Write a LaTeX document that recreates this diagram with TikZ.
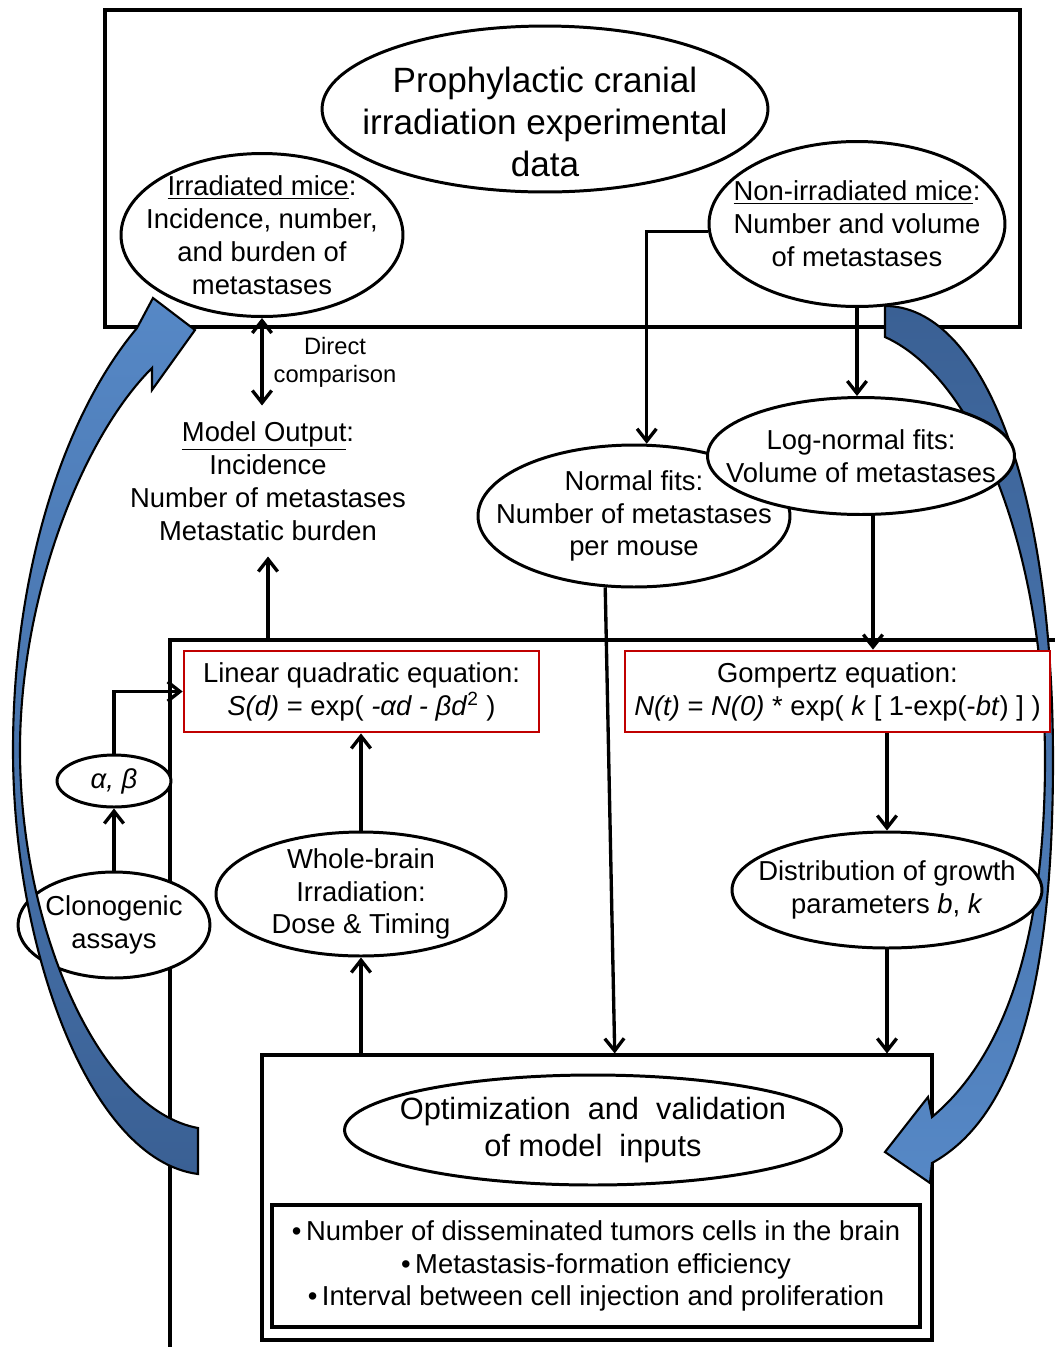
\documentclass[tikz,border=0pt]{standalone}
\usepackage{fontspec}
\setmainfont{Liberation Sans}
\usetikzlibrary{shapes.geometric, arrows.meta, calc}
\definecolor{eqred}{RGB}{192,0,0}
\definecolor{lightblue}{RGB}{86,136,198}
\definecolor{darkblue}{RGB}{58,96,148}
\tikzstyle{oval}=[ellipse, draw=black, fill=white, line width=1.7pt,
inner sep=-2cm, align=center, font=\fontsize{15.6}{18.7}\selectfont]
\tikzstyle{eqbox}=[rectangle, draw=eqred, fill=white, line width=1.6pt,
inner sep=0pt, align=center, font=\fontsize{15.6}{18.7}\selectfont]
\tikzstyle{frame}=[rectangle, draw=black, line width=1.8pt, inner sep=0pt,
align=center, font=\fontsize{15.6}{18.7}\selectfont]
\tikzstyle{plain}=[align=center, font=\fontsize{15.6}{18.7}\selectfont]
\tikzstyle{arr}=[draw=black, line width=1.9pt, ->, >={Straight Barb[length=7pt,width=11pt]}]
\tikzstyle{bigarrow}=[draw=black, line width=1.2pt]

\begin{document}
\begin{tikzpicture}[x=0.02cm, y=-0.02cm]
  \useasboundingbox (0, 0) rectangle (1055, 1347);

  % Frames
  \draw[line width=1.8pt] (105, 10) rectangle (1020, 327);
  \draw[line width=1.8pt] (170, 1347) -- (170, 640) -- (1055, 640);
  \coordinate (frametop) at (170, 640);
  \node (optbox) at (597, 1197.5) [frame, minimum width=13.4cm, minimum height=5.7cm] {};

  % Right blue arrow
  \draw[bigarrow, top color=darkblue, bottom color=lightblue]
    (885, 337) -- (885, 306) .. controls (980, 306) and (1053, 480) .. (1053, 760)
    .. controls (1053, 1000) and (1010, 1120) .. (932, 1163) -- (930, 1183)
    -- (885, 1152) -- (928, 1097) -- (932, 1117) .. controls (1000, 1060) and (1045, 950) .. (1045, 760)
    .. controls (1045, 560) and (980, 380) .. (885, 337) -- cycle;

  % Data Nodes
  \node (title) at (545, 109) [oval, minimum width=8.92cm, minimum height=3.32cm,
    label={[name=titletext, align=center, font=\fontsize{20}{23.8}\selectfont,
    yshift=-0.26cm]center:Prophylactic cranial\\irradiation experimental\\data}] {};
  \node (irr) at (262, 235) [oval, minimum width=5.64cm, minimum height=3.26cm]
    {\underline{Irradiated mice}:\\Incidence, number,\\and burden of\\metastases};
  \node (nonirr) at (857, 224) [oval, minimum width=5.92cm, minimum height=3.3cm]
    {\underline{Non-irradiated mice}:\\Number and volume\\of metastases};
  \node (nfits) at (634, 516) [oval, minimum width=6.24cm, minimum height=2.84cm]
    {Normal fits:\\Number of metastases\\per mouse};
  \node (lognorm) at (861, 456) [oval, minimum width=6.14cm, minimum height=2.34cm]
    {Log-normal fits:\\Volume of metastases};

  % Model Output
  \node (model) at (268, 481) [plain, inner ysep=9pt]
    {\underline{Model Output}:\\Incidence\\Number of metastases\\Metastatic burden};
  \node (direct) at (335, 362) [plain, font=\fontsize{13.5}{15.9}\selectfont]
    {Direct\\comparison};

  % Equations
  \node (lq) at (361.5, 691.5) [eqbox, minimum width=7.1cm, minimum height=1.62cm]
    {Linear quadratic equation:\\\textit{S(d)} = exp( \textit{-αd - βd}\textsuperscript{2} )};
  \node (gomp) at (837.5, 691.5) [eqbox, minimum width=8.5cm, minimum height=1.62cm]
    {Gompertz equation:\\\textit{N(t)} = \textit{N(0)} * exp( \textit{k} [ 1-exp(-\textit{bt}) ] )};

  % Lower Nodes
  \node (ab) at (114, 781) [oval, minimum width=2.28cm, minimum height=1.04cm] {\textit{α, β}};
  \node (clono) at (114, 925) [oval, minimum width=3.84cm, minimum height=2.12cm]
    {Clonogenic\\assays};
  \node (wbi) at (361, 894) [oval, minimum width=5.8cm, minimum height=2.48cm]
    {Whole-brain\\Irradiation:\\Dose \& Timing};
  \node (distr) at (887, 890) [oval, minimum width=6.2cm, minimum height=2.32cm]
    {Distribution of growth\\parameters \textit{b}, \textit{k}};

  % Optimization
  \node (optell) at (593, 1130) [oval, minimum width=9.94cm, minimum height=2.2cm,
    font=\fontsize{17.5}{21}\selectfont] {Optimization \ and \ validation\\of model \ inputs};
  \node (inputs) at (596, 1266) [frame, minimum width=12.96cm, minimum height=2.44cm]
    {•\,Number of disseminated tumors cells in the brain\\
     •\,Metastasis-formation efficiency\\
     •\,Interval between cell injection and proliferation};

  % Edges
  \draw[arr] (nonirr.183) -| (nfits.80);
  \draw[arr] (nonirr.south) -- (nonirr.south |- lognorm.north);
  \draw[arr] ($(lognorm.south)+(12,0)$) -- ($(lognorm.south |- gomp.north)+(12,0)$);
  \draw[arr] (nfits.248) -- (optbox.north -| nfits.255);
  \draw[arr, <->] (irr.south) -- (irr.south |- model.north);
  \draw[arr] (model.south |- frametop) -- (model.south);
  \draw[arr] (gomp.south -| distr.north) -- (distr.north);
  \draw[arr] (distr.south) -- (distr.south |- optbox.north);
  \draw[arr] (wbi.south |- optbox.north) -- (wbi.south);
  \draw[arr] (wbi.north) -- (wbi.north |- lq.south);
  \draw[arr] (clono.north) -- (ab.south);
  \draw[arr] (ab.north) |- (lq.west);

  % Left blue arrow
  \draw[bigarrow, top color=lightblue, bottom color=darkblue]
    (198, 1174) -- (198, 1128) .. controls (100, 1110) and (20, 930) .. (20, 750)
    .. controls (20, 600) and (80, 440) .. (152, 368) -- (152, 390) -- (195, 330)
    -- (153, 298) -- (137, 328) .. controls (60, 420) and (13, 580) .. (13, 750)
    .. controls (13, 950) and (90, 1160) .. (198, 1174) -- cycle;
\end{tikzpicture}
\end{document}
